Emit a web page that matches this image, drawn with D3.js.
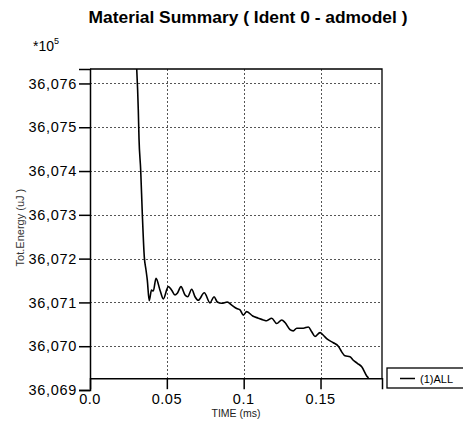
<!DOCTYPE html>
<html>
<head>
<meta charset="utf-8">
<script src="https://cdn.jsdelivr.net/npm/d3@7"></script>
<style>
  html, body { margin: 0; padding: 0; background: #fff; }
  svg { display: block; font-family: "Liberation Sans", Arial, sans-serif; }
</style>
</head>
<body>
<svg id="chart" width="463" height="430"></svg>
<script>
// Total energy history for material ident 0 (values in units of 1e5 uJ)
const timeMs = [
  0.0300, 0.03143, 0.03189, 0.03299, 0.03403, 0.03533, 0.03644, 0.03729, 0.03852, 0.04002,
  0.04119, 0.04295, 0.04555, 0.04770, 0.05095, 0.05316, 0.05531, 0.05681, 0.05921, 0.06182,
  0.06357, 0.06618, 0.06832, 0.07047, 0.07437, 0.07808, 0.08069, 0.08283, 0.08570, 0.08934,
  0.09220, 0.09546, 0.09761, 0.09975, 0.10197, 0.10587, 0.10952, 0.11277, 0.11498, 0.11823,
  0.12149, 0.12474, 0.12689, 0.13014, 0.13229, 0.13450, 0.13880, 0.14205, 0.14426, 0.14641,
  0.14966, 0.15181, 0.15441, 0.15832, 0.16157, 0.16378, 0.16593, 0.16918, 0.17133, 0.17393,
  0.17680, 0.18005, 0.18109, 0.1825
];
const totEnergy = [
  36076.60, 36075.39, 36074.74, 36074.02, 36073.03, 36072.04, 36071.74, 36071.51, 36071.04, 36071.28,
  36071.26, 36071.55, 36071.28, 36071.08, 36071.36, 36071.28, 36071.17, 36071.21, 36071.36, 36071.17,
  36071.13, 36071.30, 36071.13, 36071.05, 36071.22, 36070.99, 36071.13, 36071.01, 36070.98, 36071.01,
  36070.94, 36070.86, 36070.83, 36070.71, 36070.79, 36070.69, 36070.64, 36070.60, 36070.58, 36070.64,
  36070.52, 36070.60, 36070.54, 36070.38, 36070.35, 36070.41, 36070.41, 36070.44, 36070.33, 36070.22,
  36070.31, 36070.25, 36070.16, 36070.08, 36070.00, 36069.87, 36069.78, 36069.76, 36069.68, 36069.61,
  36069.53, 36069.32, 36069.27, 36069.05
];
const seriesName = "(1)ALL";

const xTicks = [0.05, 0.1, 0.15];
const xTickLabels = ["0.0", "0.05", "0.1", "0.15"];
const xTickLabelValues = [0, 0.05, 0.1, 0.15];
const yTicks = [36069, 36070, 36071, 36072, 36073, 36074, 36075, 36076];
const xDomain = [0, 0.19];
const yDomain = [36069, 36076.33];   // full axis extent
const yBaseline = 36069.27;          // value where the time axis sits

const svg = d3.select("#chart");

// Frame geometry
const plotLeft = 90, plotRight = 382, plotTop = 69;
const x = d3.scaleLinear().domain(xDomain).range([plotLeft, plotRight]);
const y = d3.scaleLinear().domain(yDomain).range([390, plotTop]);
const plotBottom = y(yBaseline);

// Title
svg.append("text")
  .attr("x", 248).attr("y", 23)
  .attr("text-anchor", "middle")
  .attr("font-weight", "bold")
  .attr("font-size", 17.4)
  .attr("fill", "#000")
  .text("Material Summary ( Ident 0 - admodel )");

// Exponent note
const expo = svg.append("text").attr("x", 33).attr("y", 51).attr("font-size", 14).attr("fill", "#000");
expo.append("tspan").text("*10");
expo.append("tspan").attr("font-size", 9).attr("dy", -7).text("5");

// Clip region for the plot
svg.append("clipPath").attr("id", "plotClip")
  .append("rect").attr("x", plotLeft).attr("y", plotTop)
  .attr("width", plotRight - plotLeft).attr("height", plotBottom - plotTop);

// Grid lines
const grid = svg.append("g").attr("stroke", "#555").attr("stroke-width", 1).attr("stroke-dasharray", "2,2");
grid.selectAll("line.h").data(yTicks.filter(v => v > yBaseline)).join("line")
  .attr("x1", plotLeft).attr("x2", plotRight)
  .attr("y1", d => Math.round(y(d)) + 0.5).attr("y2", d => Math.round(y(d)) + 0.5);
grid.selectAll("line.v").data(xTicks).join("line")
  .attr("y1", plotTop).attr("y2", plotBottom)
  .attr("x1", d => Math.round(x(d)) + 0.5).attr("x2", d => Math.round(x(d)) + 0.5);

// Y axis
const yAxis = d3.axisLeft(y).tickValues(yTicks).tickSize(11).tickPadding(2)
  .tickFormat(d3.format(","));
const gy = svg.append("g").attr("transform", `translate(${plotLeft},0)`).call(yAxis);
gy.select(".domain").attr("stroke", "#000").attr("stroke-width", 1.5);
gy.selectAll(".tick line").attr("stroke", "#000").attr("stroke-width", 1.5);
gy.selectAll(".tick text").attr("font-size", 14.5).attr("fill", "#000")
  .attr("letter-spacing", "0.7px")
  .attr("font-family", "'Liberation Sans', Arial, sans-serif");

// X axis (sits at the baseline)
const xAxis = d3.axisBottom(x).tickValues(xTicks).tickSize(11).tickFormat("");
const gx = svg.append("g").attr("transform", `translate(0,${plotBottom})`).call(xAxis);
gx.select(".domain").attr("stroke", "#000").attr("stroke-width", 1.5);
gx.selectAll(".tick line").attr("stroke", "#000").attr("stroke-width", 1.5);

svg.append("g").selectAll("text").data(xTickLabelValues).join("text")
  .attr("x", d => x(d)).attr("y", 403.5)
  .attr("text-anchor", "middle").attr("font-size", 14.5).attr("fill", "#000")
  .attr("letter-spacing", "0.5px")
  .text((d, i) => xTickLabels[i]);

// Top and right frame edges
svg.append("path")
  .attr("d", `M${plotLeft},${plotTop}H${plotRight}V${plotBottom}`)
  .attr("fill", "none").attr("stroke", "#000").attr("stroke-width", 1.3);

// Axis titles
svg.append("text")
  .attr("transform", `translate(24,${(plotTop + plotBottom) / 2 + 4}) rotate(-90)`)
  .attr("text-anchor", "middle").attr("font-size", 11).attr("fill", "#333")
  .text("Tot.Energy (uJ )");
svg.append("text")
  .attr("x", 236).attr("y", 416.5)
  .attr("text-anchor", "middle").attr("font-size", 10.5).attr("fill", "#222")
  .text("TIME (ms)");

// Energy curve
const line = d3.line().curve(d3.curveMonotoneX).x(d => x(d[0])).y(d => y(d[1]));
svg.append("path")
  .datum(timeMs.map((t, i) => [t, totEnergy[i]]))
  .attr("clip-path", "url(#plotClip)")
  .attr("fill", "none").attr("stroke", "#000").attr("stroke-width", 1.6)
  .attr("stroke-linejoin", "round")
  .attr("d", line);

// Legend
const lg = svg.append("g");
lg.append("rect").attr("x", 387).attr("y", 368).attr("width", 90).attr("height", 20)
  .attr("fill", "#fff").attr("stroke", "#000").attr("stroke-width", 1.3);
lg.append("line").attr("x1", 400).attr("x2", 415).attr("y1", 378.5).attr("y2", 378.5)
  .attr("stroke", "#000").attr("stroke-width", 1.5);
lg.append("text").attr("x", 420).attr("y", 382.5).attr("font-size", 11).attr("fill", "#000")
  .text(seriesName);
</script>
</body>
</html>
